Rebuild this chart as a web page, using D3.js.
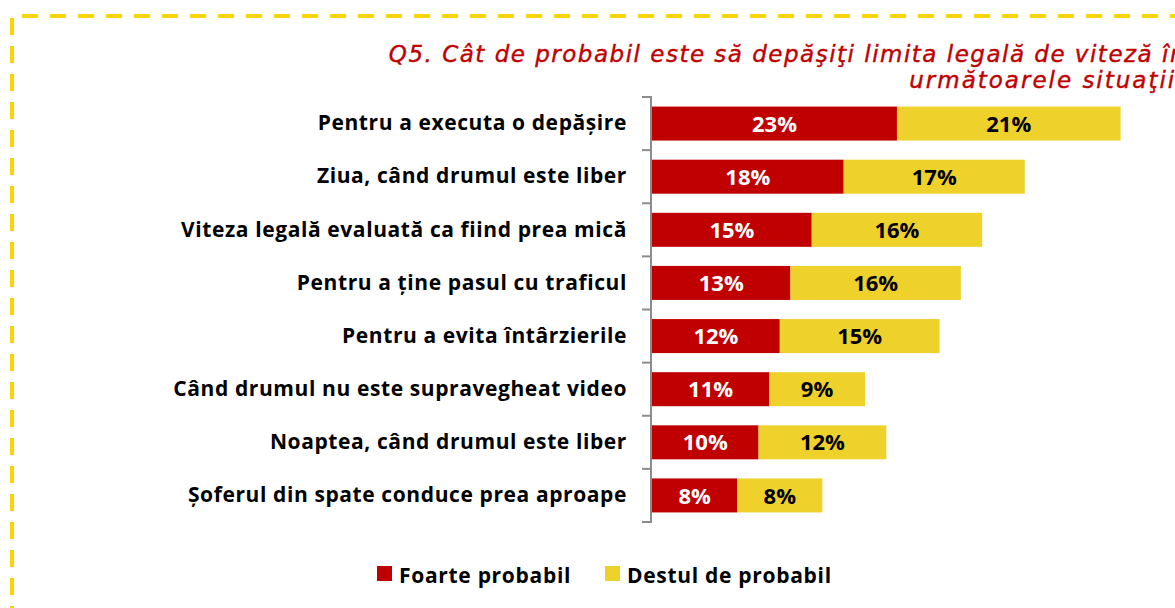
<!DOCTYPE html>
<html>
<head>
<meta charset="utf-8">
<script src="https://cdn.jsdelivr.net/npm/d3@7"></script>
<style>
    body { margin: 0; background: #fff; }
    svg { display: block; }
</style>
</head>
<body>
<div id="chart"></div>
<script>
const categories = [
    "Pentru a executa o depășire",
    "Ziua, când drumul este liber",
    "Viteza legală evaluată ca fiind prea mică",
    "Pentru a ține pasul cu traficul",
    "Pentru a evita întârzierile",
    "Când drumul nu este supravegheat video",
    "Noaptea, când drumul este liber",
    "Șoferul din spate conduce prea aproape"
];
const foarteProbabil = [23, 18, 15, 13, 12, 11, 10, 8];
const destulProbabil = [21, 17, 16, 16, 15, 9, 12, 8];
const seriesNames = ["Foarte probabil", "Destul de probabil"];
const titleLines = [
    "Q5. Cât de probabil este să depăşiţi limita legală de viteză în",
    "următoarele situaţii:"
];

function drawChart() {
    let totalWidth = 1175,
        totalHeight = 608;
    let red = "#c00000",
        yellow = "#eed12a",
        border = "#f8d500",
        axisGray = "#8c8c8c";
    let labelFont = "'Open Sans', Lato, sans-serif";

    let svg = d3.select("#chart").append("svg")
        .attr("width", totalWidth)
        .attr("height", totalHeight);

    // dashed frame (only top and left edges are visible)
    svg.append("line")
        .attr("x1", 22).attr("x2", totalWidth + 20)
        .attr("y1", 16).attr("y2", 16)
        .attr("stroke", border).attr("stroke-width", 4)
        .attr("stroke-dasharray", "16 12");
    svg.append("line")
        .attr("x1", 12).attr("x2", 12)
        .attr("y1", 18).attr("y2", totalHeight + 20)
        .attr("stroke", border).attr("stroke-width", 4)
        .attr("stroke-dasharray", "17 11");

    // title
    svg.append("g").selectAll("text")
        .data(titleLines)
        .join("text")
        .attr("x", 1186)
        .attr("y", (d, i) => 62 + i * 26)
        .attr("text-anchor", "end")
        .attr("fill", red)
        .attr("stroke", red)
        .attr("stroke-width", 0.4)
        .attr("font-family", "'DejaVu Sans', sans-serif")
        .attr("font-style", "italic")
        .attr("font-size", 23)
        .attr("letter-spacing", (d, i) => i === 0 ? 1.5 : 2)
        .text(d => d);

    let xScale = d3.scaleLinear().domain([0, 50]).range([652, 1184.5]);
    let yScale = d3.scaleBand().domain(categories).range([97, 522])
        .paddingInner(0.36).paddingOuter(0.18);

    let stacked = categories.map((c, i) => ({
        cat: c,
        parts: [
            { x0: 0, x1: foarteProbabil[i], v: foarteProbabil[i], s: 0 },
            { x0: foarteProbabil[i], x1: foarteProbabil[i] + destulProbabil[i], v: destulProbabil[i], s: 1 }
        ]
    }));

    let rows = svg.append("g").selectAll("g")
        .data(stacked)
        .join("g")
        .attr("transform", d => "translate(0," + yScale(d.cat) + ")");

    rows.selectAll("rect")
        .data(d => d.parts)
        .join("rect")
        .attr("x", d => xScale(d.x0))
        .attr("width", d => xScale(d.x1) - xScale(d.x0))
        .attr("height", yScale.bandwidth())
        .attr("fill", d => d.s === 0 ? red : yellow);

    rows.selectAll("text")
        .data(d => d.parts)
        .join("text")
        .attr("x", d => (xScale(d.x0) + xScale(d.x1)) / 2)
        .attr("y", yScale.bandwidth() / 2)
        .attr("dy", "0.37em")
        .attr("text-anchor", "middle")
        .attr("font-family", labelFont)
        .attr("font-weight", "bold")
        .attr("font-size", 22)
        .attr("fill", d => d.s === 0 ? "#fff" : "#000")
        .text(d => d.v + "%");

    // category labels via axis
    let yAxis = d3.axisLeft(yScale).tickSize(0).tickPadding(25);
    let gAxis = svg.append("g")
        .attr("transform", "translate(652,0)")
        .call(yAxis);
    gAxis.select(".domain").remove();
    gAxis.selectAll("text")
        .attr("font-family", labelFont)
        .attr("font-weight", "bold")
        .attr("font-size", 21)
        .attr("letter-spacing", 0.6)
        .attr("fill", "#000");

    // axis line with ticks between categories
    let step = yScale.step();
    let bounds = d3.range(categories.length + 1).map(i => yScale.range()[0] + i * step);
    svg.append("line")
        .attr("x1", 651).attr("x2", 651)
        .attr("y1", bounds[0]).attr("y2", bounds[bounds.length - 1])
        .attr("stroke", axisGray).attr("stroke-width", 2);
    svg.append("g").selectAll("line")
        .data(bounds)
        .join("line")
        .attr("x1", 642).attr("x2", 652)
        .attr("y1", d => d).attr("y2", d => d)
        .attr("stroke", axisGray).attr("stroke-width", 2);

    // legend
    let legendX = [377, 605];
    let legend = svg.append("g").selectAll("g")
        .data(seriesNames)
        .join("g")
        .attr("transform", (d, i) => "translate(" + legendX[i] + ",566)");
    legend.append("rect")
        .attr("width", 15).attr("height", 15)
        .attr("fill", (d, i) => i === 0 ? red : yellow);
    legend.append("text")
        .attr("x", 22)
        .attr("y", 17)
        .attr("font-family", labelFont)
        .attr("font-weight", "bold")
        .attr("font-size", 21)
        .attr("letter-spacing", 0.7)
        .attr("fill", "#000")
        .text(d => d);
}

drawChart();
</script>
</body>
</html>
